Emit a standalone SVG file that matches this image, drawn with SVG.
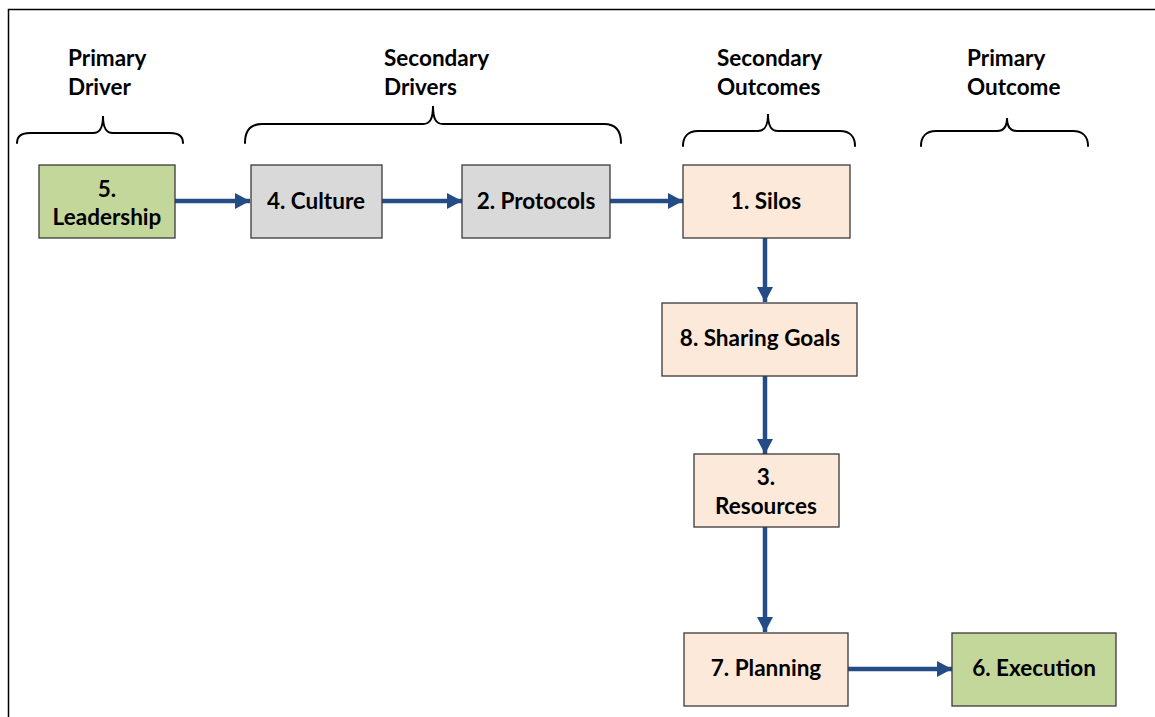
<svg xmlns="http://www.w3.org/2000/svg" width="1155" height="717" viewBox="0 0 1155 717">
  <style>
    .lbl { font-family: Lato, "Liberation Sans", sans-serif; font-weight: 700; font-size: 22.5px; fill: #000; }
    .ctr { text-anchor: middle; }
    .box { stroke: #3a3a3a; stroke-width: 1.3; }
    .green { fill: #c4d79b; }
    .gray { fill: #d9d9d9; }
    .peach { fill: #fde9d9; }
    .brace { fill: none; stroke: #000; stroke-width: 2; stroke-linecap: round; }
    .conn { fill: none; stroke: #244d86; stroke-width: 4.5; }
  </style>
  <defs>
    <marker id="head" markerUnits="userSpaceOnUse" markerWidth="16" markerHeight="16" refX="15" refY="8" orient="auto">
      <path d="M0,0 L15,8 L0,16 Z" fill="#244d86"/>
    </marker>
  </defs>

  <rect width="1155" height="717" fill="#fff"/>
  <!-- outer frame (runs off the right and bottom edges) -->
  <path d="M8.5,730 V9.5 H1170" fill="none" stroke="#000" stroke-width="1.5"/>

  <!-- column headings -->
  <g id="heading-primary-driver">
    <text class="lbl" x="68" y="66">Primary</text>
    <text class="lbl" x="68" y="95">Driver</text>
    <path class="brace" d="M17,143 C17,136 21,133 30,133 H93 C100,133 103,128 103,116 C103,128 106,133 113,133 H170 C179,133 183,136 183,143"/>
  </g>
  <g id="heading-secondary-drivers">
    <text class="lbl" x="384" y="66">Secondary</text>
    <text class="lbl" x="384" y="95">Drivers</text>
    <path class="brace" d="M245,143 C245,130 251,124 262,124 H423 C430,124 433,119 433,106 C433,119 436,124 443,124 H604 C615,124 621,130 621,143"/>
  </g>
  <g id="heading-secondary-outcomes">
    <text class="lbl" x="717" y="66">Secondary</text>
    <text class="lbl" x="717" y="95">Outcomes</text>
    <path class="brace" d="M683,146 C683,137 688,131 698,131 H758 C765,131 768,126 768,114 C768,126 771,131 778,131 H840 C850,131 855,137 855,146"/>
  </g>
  <g id="heading-primary-outcome">
    <text class="lbl" x="967" y="66">Primary</text>
    <text class="lbl" x="967" y="95">Outcome</text>
    <path class="brace" d="M921,146 C921,137 926,131 936,131 H997 C1004,131 1007,126 1007,118 C1007,126 1010,131 1017,131 H1073 C1083,131 1088,137 1088,146"/>
  </g>

  <!-- connectors -->
  <g id="connectors">
    <line class="conn" x1="175" y1="201" x2="250" y2="201" marker-end="url(#head)"/>
    <line class="conn" x1="382" y1="201" x2="462" y2="201" marker-end="url(#head)"/>
    <line class="conn" x1="610" y1="201" x2="683" y2="201" marker-end="url(#head)"/>
    <line class="conn" x1="765" y1="238" x2="765" y2="302" marker-end="url(#head)"/>
    <line class="conn" x1="765" y1="376" x2="765" y2="454" marker-end="url(#head)"/>
    <line class="conn" x1="765" y1="527" x2="765" y2="632" marker-end="url(#head)"/>
    <line class="conn" x1="848" y1="669" x2="952" y2="669" marker-end="url(#head)"/>
  </g>

  <!-- nodes -->
  <g id="node-leadership">
    <rect class="box green" x="39" y="165" width="136" height="73"/>
    <text class="lbl ctr" x="107" y="197">5.</text>
    <text class="lbl ctr" x="107" y="225">Leadership</text>
  </g>
  <g id="node-culture">
    <rect class="box gray" x="251" y="165" width="131" height="73"/>
    <text class="lbl ctr" x="316" y="209">4. Culture</text>
  </g>
  <g id="node-protocols">
    <rect class="box gray" x="462" y="165" width="148" height="73"/>
    <text class="lbl ctr" x="536" y="209">2. Protocols</text>
  </g>
  <g id="node-silos">
    <rect class="box peach" x="683" y="165" width="167" height="73"/>
    <text class="lbl ctr" x="766" y="209">1. Silos</text>
  </g>
  <g id="node-sharing-goals">
    <rect class="box peach" x="662" y="303" width="195" height="73"/>
    <text class="lbl ctr" x="760" y="346">8. Sharing Goals</text>
  </g>
  <g id="node-resources">
    <rect class="box peach" x="694" y="454" width="145" height="73"/>
    <text class="lbl ctr" x="766" y="485">3.</text>
    <text class="lbl ctr" x="766" y="514">Resources</text>
  </g>
  <g id="node-planning">
    <rect class="box peach" x="684" y="633" width="164" height="73"/>
    <text class="lbl ctr" x="766" y="676">7. Planning</text>
  </g>
  <g id="node-execution">
    <rect class="box green" x="952" y="633" width="164" height="73"/>
    <text class="lbl ctr" x="1034" y="676">6. Execution</text>
  </g>
</svg>
